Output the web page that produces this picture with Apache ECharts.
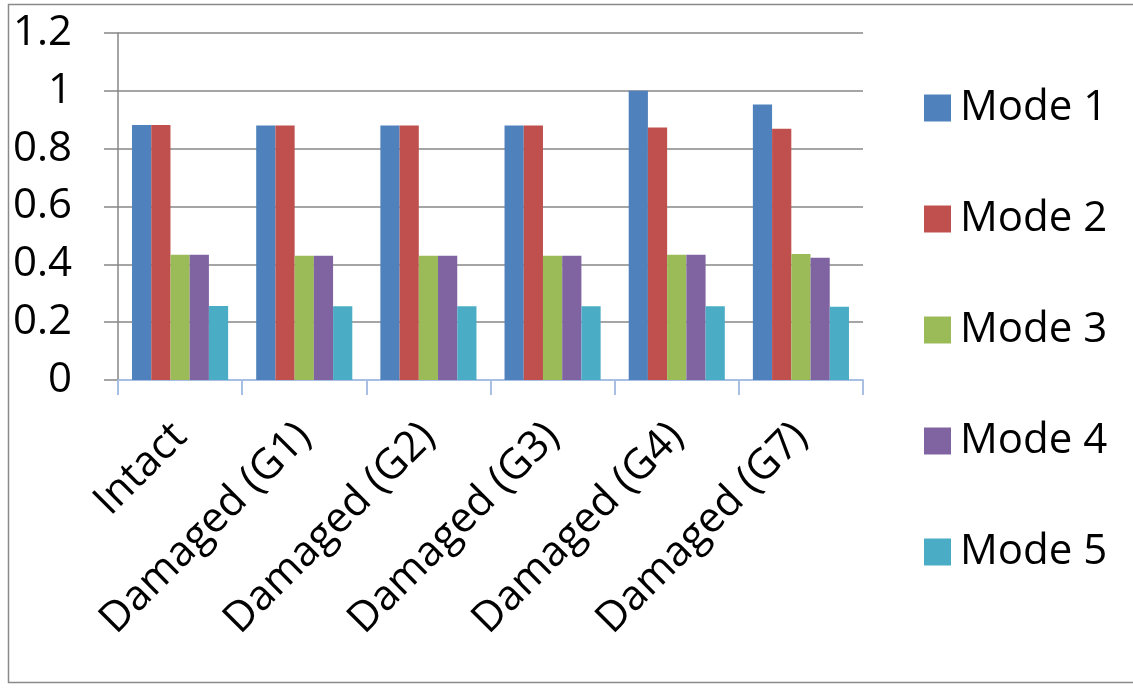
<!DOCTYPE html>
<html>
<head>
<meta charset="utf-8">
<script src="https://cdn.jsdelivr.net/npm/echarts@6/dist/echarts.min.js"></script>
<style>
  html, body { margin: 0; padding: 0; background: #fff; overflow: hidden; }
  #chart { width: 1133px; height: 689px; }
</style>
</head>
<body>
<div id="chart"></div>
<script>
// Normalised modal values per structural state
const categories = ['Intact', 'Damaged (G1)', 'Damaged (G2)', 'Damaged (G3)', 'Damaged (G4)', 'Damaged (G7)'];
const seriesNames = ['Mode 1', 'Mode 2', 'Mode 3', 'Mode 4', 'Mode 5'];
const mode1 = [0.882, 0.880, 0.880, 0.880, 1.000, 0.953];
const mode2 = [0.882, 0.880, 0.880, 0.880, 0.873, 0.869];
const mode3 = [0.433, 0.430, 0.430, 0.430, 0.433, 0.436];
const mode4 = [0.433, 0.430, 0.430, 0.430, 0.433, 0.423];
const mode5 = [0.256, 0.255, 0.255, 0.255, 0.255, 0.253];
const colors = ['#4f81bd', '#c0504d', '#9bbb59', '#8064a2', '#4bacc6'];

const FONT = '"Open Sans", "Liberation Sans", sans-serif';
const FS = 42;
const values = [mode1, mode2, mode3, mode4, mode5];

const chart = echarts.init(document.getElementById('chart'), null, { renderer: 'canvas' });

chart.setOption({
  animation: false,
  backgroundColor: '#ffffff',
  color: colors,
  textStyle: { fontFamily: FONT },
  grid: { left: 118, right: 270, top: 33, bottom: 309, containLabel: false },
  graphic: [{
    // chart-area frame: top, left and bottom edges
    type: 'polyline',
    shape: { points: [[1133, 4.5], [8.5, 4.5], [8.5, 682.5], [1133, 682.5]] },
    style: { fill: 'none', stroke: '#8a8a8a', lineWidth: 1.5 },
    silent: true
  }],
  legend: {
    orient: 'vertical',
    left: 919,
    top: 79,
    itemWidth: 27,
    itemHeight: 27,
    itemGap: 63,
    icon: 'rect',
    data: seriesNames,
    textStyle: {
      fontFamily: FONT,
      fontSize: FS,
      color: '#000',
      lineHeight: 48,
      padding: [0, 0, 0, 4]
    }
  },
  xAxis: {
    type: 'category',
    data: categories,
    axisLine: { show: true, lineStyle: { color: '#a7bfe3', width: 2 } },
    axisTick: { show: true, interval: 0, length: 15, lineStyle: { color: '#a7bfe3', width: 2 } },
    axisLabel: {
      interval: 0,
      rotate: 45,
      margin: 50,
      fontFamily: FONT,
      fontSize: FS,
      color: '#000'
    },
    splitLine: { show: false }
  },
  yAxis: {
    type: 'value',
    min: 0,
    max: 1.2,
    interval: 0.2,
    axisLine: { show: true, lineStyle: { color: '#878787', width: 1.5 } },
    axisTick: { show: true, length: 14, lineStyle: { color: '#878787', width: 1.5 } },
    axisLabel: {
      margin: 46,
      fontFamily: FONT,
      fontSize: FS,
      color: '#000',
      formatter: v => String(parseFloat(v.toFixed(1)))
    },
    splitLine: { show: true, lineStyle: { color: '#878787', width: 1.5 } }
  },
  series: seriesNames.map((name, i) => ({
    name: name,
    type: 'bar',
    data: values[i],
    barGap: '0%',
    barCategoryGap: '22.6%',
    itemStyle: { color: colors[i] },
    z: 3
  }))
});
</script>
</body>
</html>
